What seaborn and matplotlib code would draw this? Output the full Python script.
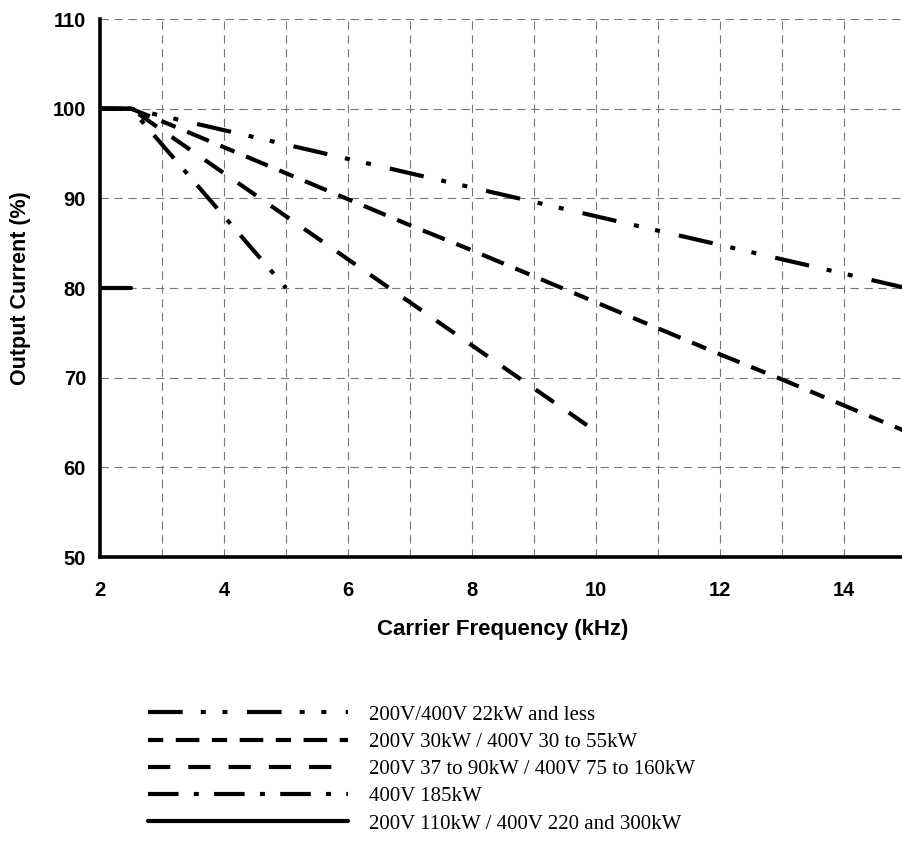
import matplotlib
matplotlib.use("Agg")
import matplotlib.pyplot as plt
import seaborn as sns
import pandas as pd
from matplotlib.ticker import MultipleLocator

# ---- data ----
x_15 = [2, 2.5, 3, 4, 5, 6, 7, 8, 9, 10, 11, 12, 13, 14, 15]
x_10 = [2, 2.5, 3, 4, 5, 6, 7, 8, 9, 10]
x_5 = [2, 2.5, 3, 4, 5]
x_fixed = [2, 2.5]

y_22kw = [100, 100, 99.2, 97.6, 96.0, 94.4, 92.8, 91.2, 89.6, 88.0, 86.4, 84.8, 83.2, 81.6, 80.0]
y_30kw = [100, 100, 98.6, 95.7, 92.8, 89.9, 87.0, 84.2, 81.3, 78.4, 75.5, 72.6, 69.8, 66.9, 64.0]
y_37kw = [100, 100, 97.6, 92.8, 88.0, 83.2, 78.4, 73.6, 68.8, 64.0]
y_185kw = [100, 100, 96.0, 88.0, 80.0]
y_110kw = [80, 80]

labels = [
    "200V/400V 22kW and less",
    "200V 30kW / 400V 30 to 55kW",
    "200V 37 to 90kW / 400V 75 to 160kW",
    "400V 185kW",
    "200V 110kW / 400V 220 and 300kW",
]

x_ticks = [2, 4, 6, 8, 10, 12, 14]
y_ticks = [50, 60, 70, 80, 90, 100, 110]

series = [(labels[0], x_15, y_22kw), (labels[1], x_15, y_30kw),
          (labels[2], x_10, y_37kw), (labels[3], x_5, y_185kw),
          (labels[4], x_fixed, y_110kw)]
df = pd.concat([pd.DataFrame({"freq": xs, "current": ys, "model": lab})
                for lab, xs, ys in series], ignore_index=True)

# ---- style ----
sns.set_style("white")
plt.rcParams["font.family"] = ["Liberation Sans", "DejaVu Sans"]
plt.rcParams["lines.scale_dashes"] = False
for key in ["text.color", "axes.labelcolor", "xtick.color", "ytick.color"]:
    plt.rcParams[key] = "black"

dash_map = {
    labels[0]: (25, 13, 3.6, 12, 3.6, 14),
    labels[1]: (11, 9, 17, 9),
    labels[2]: (16, 13),
    labels[3]: (22, 11, 3.6, 11),
    labels[4]: "",
}

fig = plt.figure(figsize=(9.03, 8.46), dpi=100)
W, H = 903, 846
ax = fig.add_axes([100 / W, 1 - 557 / H, 806 / W, 538 / H])

sns.lineplot(data=df, x="freq", y="current", style="model", style_order=labels,
             dashes=dash_map, color="black", linewidth=3, legend=False, ax=ax,
             sort=False)

ax.set_xlim(2, 15)
ax.set_ylim(50, 110)
ax.set_xticks(x_ticks)
ax.set_yticks(y_ticks)
ax.xaxis.set_minor_locator(MultipleLocator(1))

ax.grid(True, which="both", color="#777777", linewidth=0.8, linestyle=(0, (6, 4)))
ax.set_axisbelow(True)

for s in ["top", "right"]:
    ax.spines[s].set_visible(False)
for s in ["left", "bottom"]:
    ax.spines[s].set_visible(True)
    ax.spines[s].set_color("black")
    ax.spines[s].set_linewidth(2.6)

ax.tick_params(axis="both", which="major", direction="out", length=4, width=2.6,
               color="black", labelcolor="black", labelsize=14.5, pad=6)
ax.tick_params(axis="both", which="minor", length=0)
ax.tick_params(axis="x", pad=13)
for t in ax.get_xticklabels() + ax.get_yticklabels():
    t.set_fontweight("bold")

ax.set_xlabel("Carrier Frequency (kHz)", fontsize=16, fontweight="bold",
              labelpad=14, color="black")
ax.set_ylabel("Output Current (%)", fontsize=15.5, fontweight="bold",
              labelpad=16, color="black")

handles = list(ax.get_lines())[:5]
leg = fig.legend(handles, labels, loc="upper left",
                 bbox_to_anchor=(148 / W, 1 - 705 / H), frameon=False,
                 handlelength=9.6, handletextpad=1.0, labelspacing=0.37,
                 borderpad=0, borderaxespad=0,
                 prop={"family": "Liberation Serif", "size": 15})
for t in leg.get_texts():
    t.set_color("black")

fig.savefig("out.png", dpi=100)
